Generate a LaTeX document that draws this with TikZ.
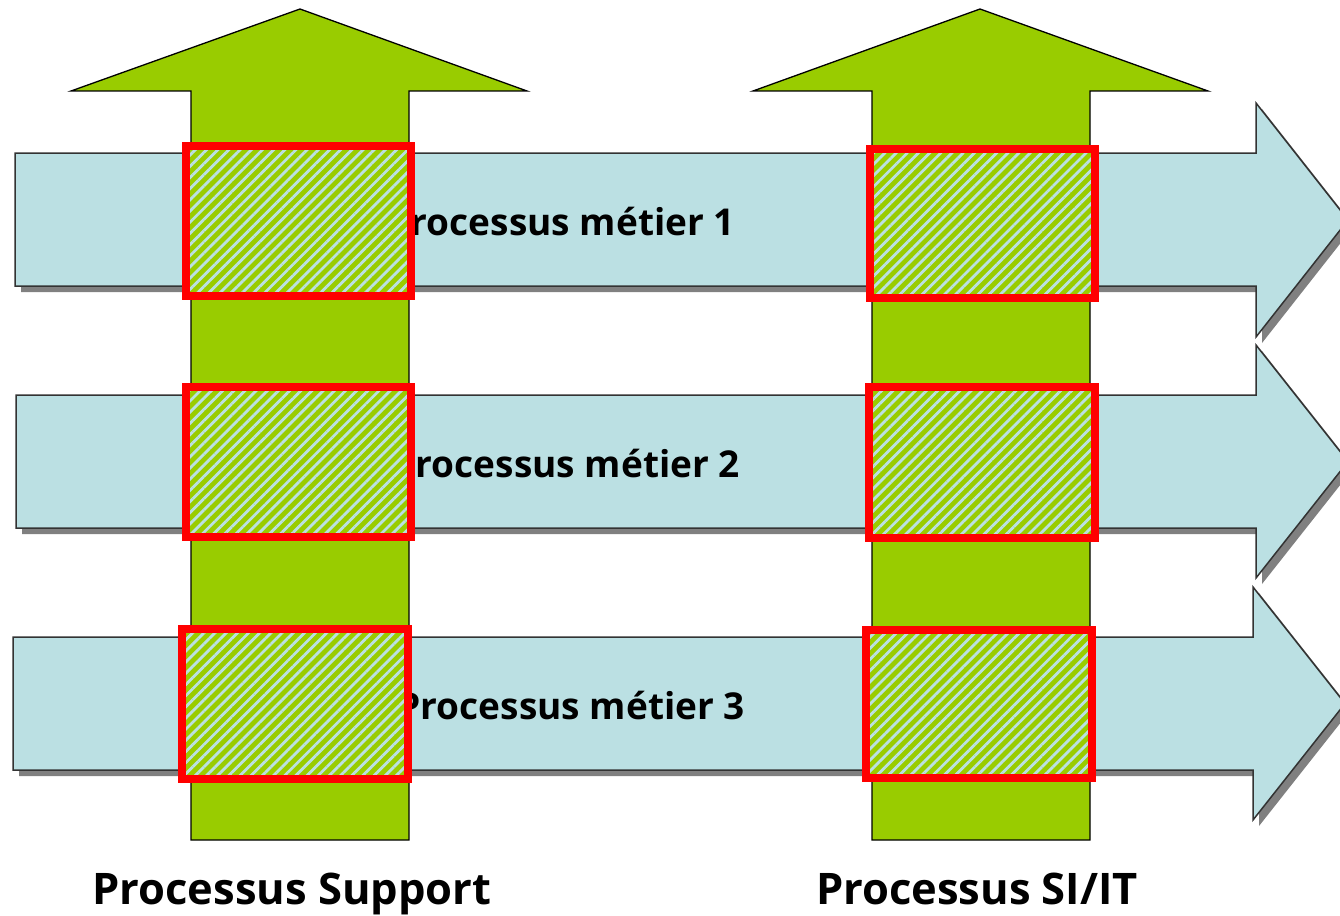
\documentclass[tikz,border=0pt]{standalone}
\usepackage{fontspec}
\setmainfont{Open Sans}
\usetikzlibrary{patterns.meta}
\definecolor{leaf}{HTML}{99CC00}
\definecolor{flow}{HTML}{BBE0E3}
\definecolor{edgegray}{HTML}{333333}
\definecolor{shade}{HTML}{808080}
\tikzset{
  pillar/.style={fill=leaf, draw=black, line width=1.3pt, line join=miter},
  lane/.style={fill=flow, draw=edgegray, line width=1.5pt, line join=miter},
  laneshadow/.style={fill=shade},
  lanelabel/.style={font=\bfseries\fontsize{37}{40}\selectfont, anchor=base east, inner sep=0pt},
  pillarlabel/.style={font=\bfseries\fontsize{43.5}{48}\selectfont, anchor=base, inner sep=0pt},
  overlap/.style={draw=red, line width=8pt, line join=miter,
    preaction={fill=leaf},
    preaction={pattern={Lines[angle=45,distance=7.9pt,line width=2.8pt]}, pattern color=flow}},
}
\begin{document}
\begin{tikzpicture}[x=1pt, y=-1pt]
  \useasboundingbox (0,0) rectangle (1340,915);
  \clip (0,0) rectangle (1340,915);

  % vertical support arrows
  \path[pillar] (191,840) -- (191,91) -- (71,91) -- (300,9) -- (527,91) -- (409,91) -- (409,840) -- cycle;
  \path[pillar] (872,840) -- (872,91) -- (753,91) -- (980,9) -- (1208,91) -- (1090,91) -- (1090,840) -- cycle;

  % horizontal business process arrows, each with its drop shadow
  \foreach \l/\t/\b/\hx/\ht/\hb/\tx/\ty in {
      15/153/286/1256/103/337/1348/220,
      16/395/528/1256/345/578/1348/461.5,
      13/637/770/1253/587/820/1345/703.5} {
    \path[laneshadow, shift={(6,6)}] (\l,\t) -- (\hx,\t) -- (\hx,\ht) -- (\tx,\ty) -- (\hx,\hb) -- (\hx,\b) -- (\l,\b) -- cycle;
    \path[lane] (\l,\t) -- (\hx,\t) -- (\hx,\ht) -- (\tx,\ty) -- (\hx,\hb) -- (\hx,\b) -- (\l,\b) -- cycle;
  }

  % process labels
  \node[lanelabel] (m1) at (735,235) {Processus métier 1};
  \node[lanelabel] (m2) at (740,477) {Processus métier 2};
  \node[lanelabel] (m3) at (745,719) {Processus métier 3};

  % crossings of support and business processes
  \path[overlap] (186,146) rectangle (411,296);
  \path[overlap] (870,149) rectangle (1095,298);
  \path[overlap] (186,387) rectangle (411,537);
  \path[overlap] (869,387) rectangle (1095,538);
  \path[overlap] (182,629) rectangle (408,779);
  \path[overlap] (866,630) rectangle (1092,778);

  % pillar captions
  \node[pillarlabel] (sup) at (292,904) {Processus Support};
  \node[pillarlabel] (sit) at (977,904) {Processus SI/IT};
\end{tikzpicture}
\end{document}
